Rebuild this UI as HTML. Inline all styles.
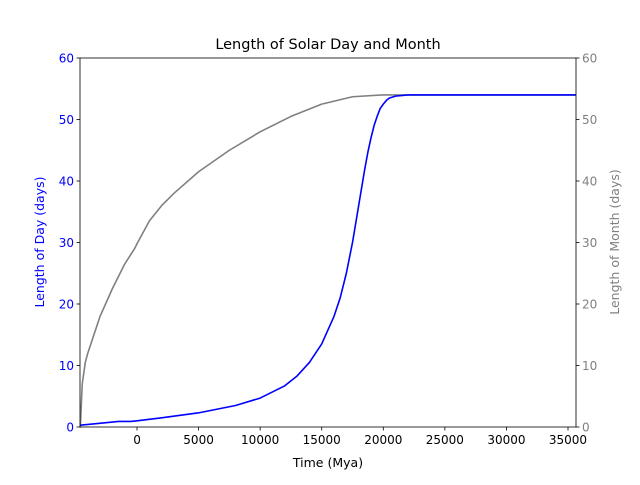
<!DOCTYPE html>
<html><head><meta charset="utf-8"><style>
body{margin:0;background:#fff;font-family:"Liberation Sans","DejaVu Sans",sans-serif}
svg text{font-family:"DejaVu Sans","Liberation Sans",sans-serif}
</style></head><body>
<svg id="chart" width="640" height="480" viewBox="0 0 640 480" xmlns="http://www.w3.org/2000/svg">
<rect width="640" height="480" fill="#fff"/>
<text x="328" y="49" font-size="14.5" text-anchor="middle">Length of Solar Day and Month</text>
<g id="plot"></g>
<text x="328" y="467" font-size="12.5" text-anchor="middle">Time (Mya)</text>
<text transform="translate(44,242) rotate(-90)" font-size="12.5" fill="blue" text-anchor="middle">Length of Day (days)</text>
<text transform="translate(619,242) rotate(-90)" font-size="12.5" fill="gray" text-anchor="middle">Length of Month (days)</text>
</svg>
<script>
const xTicks=[0,5000,10000,15000,20000,25000,30000,35000];
const yTicks=[0,10,20,30,40,50,60];
const dayT=[-4600,-2000,-1500,-500,0,2000,5000,8000,10000,12000,13000,14000,15000,16000,16500,17000,17500,18000,18250,18500,18750,19000,19250,19500,19750,20000,20250,20500,21000,22000,35600];
const dayV=[0.3,0.8,0.9,0.9,1.0,1.5,2.3,3.5,4.7,6.7,8.3,10.5,13.5,18,21,25,30,36,39,42,44.7,47,49,50.5,51.8,52.5,53.1,53.5,53.8,54,54];
const monT=[-4600,-4450,-4200,-4000,-3000,-2000,-1000,-200,0,1000,2000,3000,5000,7500,10000,12500,15000,17500,20000,35600];
const monV=[0,7,10.5,12,18,22.5,26.5,29,29.8,33.5,36,38,41.5,45,48,50.5,52.5,53.7,54,54];
const X0=80,X1=576,Y0=427,Y1=58,xmin=-4630,xmax=35650,ymin=0,ymax=60;
const xs=v=>X0+(v-xmin)/(xmax-xmin)*(X1-X0);
const ys=v=>Y0-(v-ymin)/(ymax-ymin)*(Y0-Y1);
const NS="http://www.w3.org/2000/svg";
const g=document.getElementById('plot');
function el(t,a){const e=document.createElementNS(NS,t);for(const k in a)e.setAttribute(k,a[k]);g.appendChild(e);return e;}
function line(T,V,c,name){
 const p=el('polyline',{points:T.map((t,i)=>xs(t)+','+ys(V[i])).join(' '),fill:'none',stroke:c,'stroke-width':1.6,'stroke-linejoin':'round','stroke-linecap':'round'});
 
 
}
line(monT,monV,'gray','month-line');
line(dayT,dayV,'blue','day-line');
const fr=el('rect',{x:X0,y:Y1,width:X1-X0,height:Y0-Y1,fill:'none',stroke:'#000','stroke-width':0.8});


xTicks.forEach(v=>{
 el('line',{x1:xs(v),x2:xs(v),y1:Y0,y2:Y0+3.5,stroke:'#000','stroke-width':0.8});
 const t=el('text',{x:xs(v),y:Y0+17,'font-size':12,'text-anchor':'middle'});t.textContent=v;
 
 
});
yTicks.forEach(v=>{
 el('line',{x1:X0-3.5,x2:X0,y1:ys(v),y2:ys(v),stroke:'#000','stroke-width':0.8});
 el('line',{x1:X1,x2:X1+3.5,y1:ys(v),y2:ys(v),stroke:'#000','stroke-width':0.8});
 const a=el('text',{x:X0-6,y:ys(v)+4.5,'font-size':12,'text-anchor':'end',fill:'blue'});a.textContent=v;
 
 
 const b=el('text',{x:X1+6,y:ys(v)+4.5,'font-size':12,fill:'gray'});b.textContent=v;
 
 
});
</script>
</body></html>
